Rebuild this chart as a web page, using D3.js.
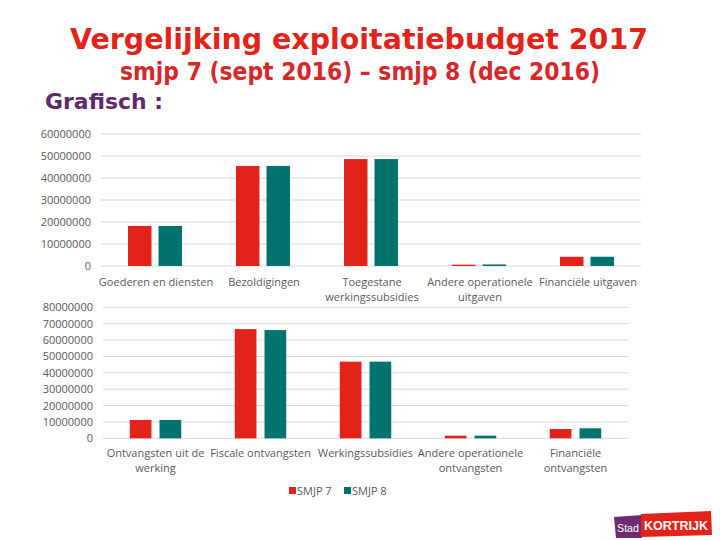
<!DOCTYPE html>
<html><head><meta charset="utf-8">
<script src="https://cdn.jsdelivr.net/npm/d3@7/dist/d3.min.js"></script>
<style>body{margin:0;background:#fff}svg{display:block}</style>
</head><body><svg id="c" width="720" height="540"></svg>
<script>
const series = ["SMJP 7", "SMJP 8"];
const colors = ["#E2231A", "#00736E"];
const categoriesTop = ["Goederen en diensten", "Bezoldigingen", "Toegestane\nwerkingssubsidies", "Andere operationele\nuitgaven", "Financiële uitgaven"];
const smjp7Top = [18200000, 45500000, 48600000, 600000, 4200000];
const smjp8Top = [18200000, 45500000, 48600000, 700000, 4200000];
const ticksTop = [0, 10000000, 20000000, 30000000, 40000000, 50000000, 60000000];
const categoriesBottom = ["Ontvangsten uit de\nwerking", "Fiscale ontvangsten", "Werkingssubsidies", "Andere operationele\nontvangsten", "Financiële\nontvangsten"];
const smjp7Bottom = [11200000, 66700000, 46800000, 1600000, 5700000];
const smjp8Bottom = [11200000, 66100000, 46800000, 1600000, 6100000];
const ticksBottom = [0, 10000000, 20000000, 30000000, 40000000, 50000000, 60000000, 70000000, 80000000];

const svg = d3.select("#c");
const font = "'Open Sans', 'Noto Sans', sans-serif";
const titleFont = "'DejaVu Sans', Verdana, sans-serif";

svg.append("text").attr("x", 359).attr("y", 49).attr("text-anchor", "middle")
  .attr("font-family", titleFont).attr("font-weight", "bold")
  .attr("font-size", 28).attr("fill", "#E2231A")
  .attr("textLength", 578).attr("lengthAdjust", "spacingAndGlyphs")
  .text("Vergelijking exploitatiebudget 2017");
svg.append("text").attr("x", 360).attr("y", 80).attr("text-anchor", "middle")
  .attr("font-family", titleFont).attr("font-weight", "bold")
  .attr("font-size", 24).attr("fill", "#D6282B")
  .attr("textLength", 480).attr("lengthAdjust", "spacingAndGlyphs")
  .text("smjp 7 (sept 2016) – smjp 8 (dec 2016)");
svg.append("text").attr("x", 45).attr("y", 109)
  .attr("font-family", titleFont).attr("font-weight", "bold")
  .attr("font-size", 22).attr("fill", "#5E2A6B")
  .attr("textLength", 118).attr("lengthAdjust", "spacingAndGlyphs")
  .text("Grafisch :");

function drawChart(cfg) {
  const g = svg.append("g");
  const x0 = d3.scaleBand().domain(cfg.categories).range([cfg.left, cfg.right]).padding(0);
  const x1 = d3.scaleBand().domain(series).range([0, x0.bandwidth()])
    .paddingInner(cfg.pi).paddingOuter(cfg.po);
  const y = d3.scaleLinear().domain([0, cfg.max]).range([cfg.bottom, cfg.top]);

  g.selectAll(".grid").data(cfg.ticks).join("line")
    .attr("x1", cfg.left).attr("x2", cfg.right)
    .attr("y1", d => y(d)).attr("y2", d => y(d))
    .attr("stroke", "#d9d9d9").attr("stroke-width", 1);

  const yAxis = d3.axisLeft(y).tickValues(cfg.ticks).tickFormat(d3.format("d")).tickSize(0).tickPadding(0);
  const ya = g.append("g").attr("transform", `translate(${cfg.labelX},0)`).call(yAxis);
  ya.select(".domain").remove();
  ya.selectAll("text").attr("font-family", font).attr("font-size", 11).attr("fill", "#595959");

  const vals = [cfg.s7, cfg.s8];
  const groups = g.selectAll(".grp").data(cfg.categories).join("g")
    .attr("transform", d => `translate(${x0(d)},0)`);
  groups.selectAll("rect").data((d, i) => series.map((s, j) => ({s, v: vals[j][i], c: colors[j]})))
    .join("rect")
    .attr("x", d => x1(d.s)).attr("width", x1.bandwidth())
    .attr("y", d => y(d.v)).attr("height", d => cfg.bottom - y(d.v))
    .attr("fill", d => d.c);

  const xl = g.selectAll(".xl").data(cfg.categories).join("text")
    .attr("x", d => x0(d) + x0.bandwidth() / 2 + cfg.labelShift)
    .attr("y", cfg.labelY).attr("text-anchor", "middle")
    .attr("font-family", font).attr("font-size", 11).attr("fill", "#595959");
  xl.each(function(d) {
    const t = d3.select(this);
    d.split("\n").forEach((line, k) => {
      t.append("tspan").attr("x", x0(d) + x0.bandwidth() / 2 + cfg.labelShift)
        .attr("dy", k === 0 ? 0 : 14.5).text(line);
    });
  });
}

drawChart({categories: categoriesTop, s7: smjp7Top, s8: smjp8Top, ticks: ticksTop, max: 60000000,
  left: 101, right: 641, top: 134, bottom: 266, labelX: 91, labelY: 286, labelShift: 1,
  pi: 0.23, po: 0.885});
drawChart({categories: categoriesBottom, s7: smjp7Bottom, s8: smjp8Bottom, ticks: ticksBottom, max: 80000000,
  left: 103, right: 628, top: 307.3, bottom: 438.3, labelX: 93, labelY: 457, labelShift: 0,
  pi: 0.27, po: 0.9});

// legend
const lg = svg.append("g");
const legendX = [289, 344];
series.forEach((s, i) => {
  lg.append("rect").attr("x", legendX[i]).attr("y", 487).attr("width", 7).attr("height", 7).attr("fill", colors[i]);
  lg.append("text").attr("x", legendX[i] + 8).attr("y", 494.5)
    .attr("font-family", font).attr("font-size", 11).attr("fill", "#595959").text(s);
});

// logo
const logo = svg.append("g");
logo.append("path").attr("d", "M614,517 L642,515 L642,538 L616,538 Z").attr("fill", "#6B2D72");
logo.append("path").attr("d", "M641,514 L711,511 L712,535 L641,537 Z").attr("fill", "#E2231A");
logo.append("text").attr("x", 628).attr("y", 532).attr("text-anchor", "middle")
  .attr("font-family", "'Liberation Sans Narrow', 'Liberation Sans', sans-serif").attr("font-size", 11).attr("fill", "#fff")
  .attr("textLength", 22).attr("lengthAdjust", "spacingAndGlyphs").text("Stad");
logo.append("text").attr("x", 676).attr("y", 530).attr("text-anchor", "middle")
  .attr("font-family", "'Liberation Sans', sans-serif").attr("font-weight", "bold").attr("font-size", 13).attr("fill", "#fff")
  .attr("textLength", 64).attr("lengthAdjust", "spacingAndGlyphs").text("KORTRIJK");
</script></body></html>
